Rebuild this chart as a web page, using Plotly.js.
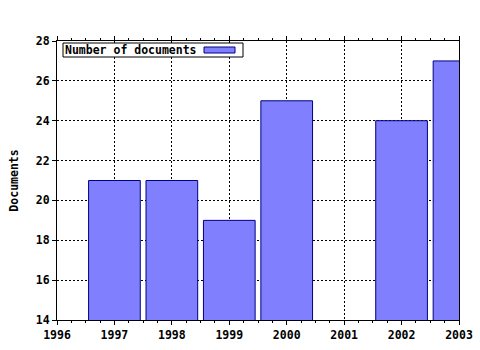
<!DOCTYPE html>
<html>
<head>
<meta charset="utf-8">
<script src="https://cdn.plot.ly/plotly-3.0.1.min.js"></script>
<style>html,body{margin:0;padding:0;background:#fff;}#chart{width:480px;height:350px;}</style>
</head>
<body>
<div id="chart"></div>
<script>
const years = [1997, 1998, 1999, 2000, 2002, 2003];
const documents = [21, 21, 19, 25, 24, 27];
const seriesName = "Number of documents";
const yTicks = [14, 16, 18, 20, 22, 24, 26, 28];
const xTicks = [1996, 1997, 1998, 1999, 2000, 2001, 2002, 2003];

const fillColor = "#8080ff";
const edgeColor = "#000080";
const font = {family: "DejaVu Sans Mono", size: 11.5, color: "#000", weight: "bold"};

const trace = {
  type: "bar",
  x: years,
  y: documents,
  name: seriesName,
  width: 0.9,
  marker: {color: fillColor, line: {color: edgeColor, width: 1}},
  showlegend: false,
  hoverinfo: "skip"
};

// plot area in pixels: left 57, right 459, top 41, bottom 320
const PW = 402, PH = 279;
const px = v => (v - 57) / PW;
const py = v => (320 - v) / PH;

const layout = {
  width: 480, height: 350,
  margin: {l: 57, r: 21, t: 41, b: 30, pad: 0},
  paper_bgcolor: "#fff", plot_bgcolor: "#fff",
  font: font,
  bargap: 0,
  showlegend: false,
  xaxis: {
    range: [1996, 2003], tickvals: xTicks, ticktext: xTicks.map(String),
    showline: true, linecolor: "#000", linewidth: 1, mirror: "allticks",
    ticks: "outside", ticklen: 4, tickcolor: "#000",
    minor: {dtick: 0.25, tick0: 1996, ticks: "outside", ticklen: 2, tickcolor: "#000", showgrid: false},
    showgrid: true, gridcolor: "#000", gridwidth: 1, griddash: "2px,2px",
    tickfont: font, zeroline: false, fixedrange: true
  },
  yaxis: {
    range: [14, 28], tickvals: yTicks, ticktext: yTicks.map(String),
    showline: true, linecolor: "#000", linewidth: 1, mirror: true,
    ticks: "outside", ticklen: 4, tickcolor: "#000",
    showgrid: true, gridcolor: "#000", gridwidth: 1, griddash: "2px,2px",
    tickfont: font, zeroline: false, fixedrange: true,
    title: {text: "Documents", font: font, standoff: 14}
  },
  shapes: [
    {
      type: "rect", xref: "paper", yref: "paper",
      x0: px(63), x1: px(243), y0: py(57), y1: py(43),
      fillcolor: "#fff", line: {color: "#000", width: 1}
    },
    {
      type: "rect", xref: "paper", yref: "paper",
      x0: px(204), x1: px(235), y0: py(53), y1: py(47),
      fillcolor: fillColor, line: {color: edgeColor, width: 1}
    }
  ],
  annotations: [{
    xref: "paper", yref: "paper",
    x: px(64), y: py(50), xanchor: "left", yanchor: "middle",
    text: seriesName, showarrow: false,
    borderpad: 0, font: font
  }]
};

Plotly.newPlot("chart", [trace], layout, {staticPlot: true});
</script>
</body>
</html>
